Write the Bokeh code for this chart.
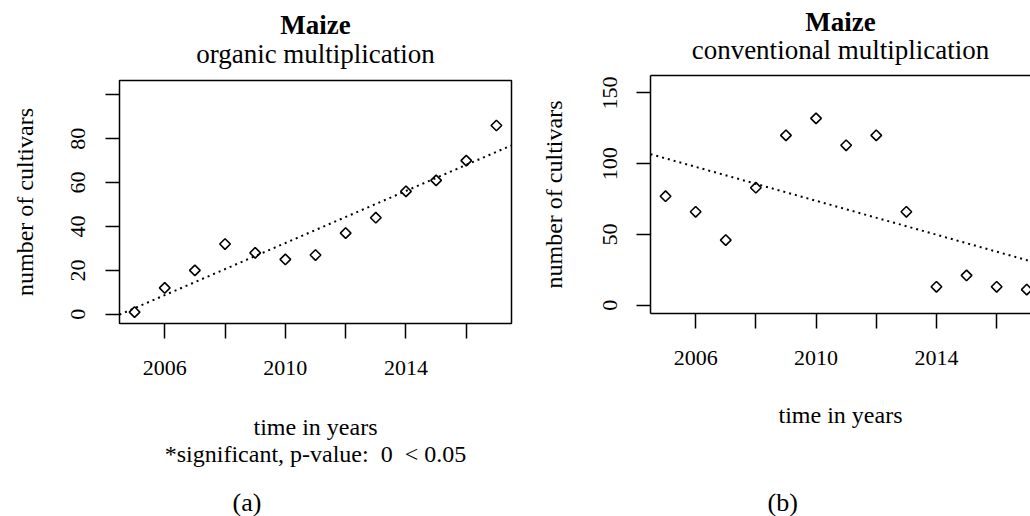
import numpy as np
from bokeh.plotting import figure
from bokeh.models import FixedTicker, Range1d, LinearAxis, Title
from bokeh.layouts import row, column
from bokeh.embed import file_html
from bokeh.resources import INLINE

# ---------------- data ----------------
years = [2005, 2006, 2007, 2008, 2009, 2010, 2011, 2012, 2013, 2014, 2015, 2016, 2017]
organic = [1, 12, 20, 32, 28, 25, 27, 37, 44, 56, 61, 70, 86]
conventional = [77, 66, 46, 83, 120, 132, 113, 120, 66, 13, 21, 13, 11]

x_ticks = [2006, 2008, 2010, 2012, 2014, 2016]
x_tick_labels = {2006: "2006", 2008: "", 2010: "2010", 2012: "", 2014: "2014", 2016: ""}
org_y_ticks = [0, 20, 40, 60, 80, 100]
org_y_labels = {0: "0", 20: "20", 40: "40", 60: "60", 80: "80", 100: ""}
conv_y_ticks = [0, 50, 100, 150]
conv_y_labels = {0: "0", 50: "50", 100: "100", 150: "150"}

crop = "Maize"
sub_a = "organic multiplication"
sub_b = "conventional multiplication"
xlab = "time in years"
ylab = "number of cultivars"
note_a = "*significant, p-value: \u00a00 \u00a0< 0.05"
cap_a = "(a)"
cap_b = "(b)"

FONT = "Liberation Serif"
X_START, X_END = 2004.5, 2017.5
PX_PER_YEAR = 30.1


def blank_axis(line=False, label="\u00a0", label_standoff=0, label_size="1px", bold=False):
    ax = LinearAxis(ticker=FixedTicker(ticks=[]), major_tick_out=0, major_tick_in=0,
                    minor_tick_out=0, minor_tick_in=0, major_label_standoff=0,
                    major_tick_line_color=None, minor_tick_line_color=None,
                    axis_line_color="black" if line else None, axis_line_width=1.5)
    ax.axis_label = label
    ax.axis_label_standoff = label_standoff
    ax.axis_label_text_font = FONT
    ax.axis_label_text_font_size = label_size
    ax.axis_label_text_font_style = "bold" if bold else "normal"
    ax.axis_label_text_color = "black"
    return ax


def style_axes(p, xa, ya, yticks, ylabels, axis_lines):
    p.xgrid.grid_line_color = None
    p.ygrid.grid_line_color = None
    for ax in (xa, ya):
        ax.major_tick_in = 0
        ax.minor_tick_in = 0
        ax.minor_tick_out = 0
        ax.major_tick_line_color = "black"
        ax.major_tick_line_width = 1.5
        ax.major_label_text_font = FONT
        ax.major_label_text_font_size = "22px"
        ax.major_label_text_color = "black"
        ax.axis_label_text_font = FONT
        ax.axis_label_text_font_size = "24px"
        ax.axis_label_text_font_style = "normal"
        ax.axis_label_text_color = "black"
        if axis_lines:
            ax.axis_line_color = "black"
            ax.axis_line_width = 1.5
        else:
            ax.axis_line_color = None
    xa.ticker = FixedTicker(ticks=x_ticks)
    xa.major_label_overrides = x_tick_labels
    xa.major_tick_out = 15
    xa.major_label_standoff = 22
    xa.axis_label = xlab
    ya.ticker = FixedTicker(ticks=yticks)
    ya.major_label_overrides = ylabels
    ya.major_tick_out = 14
    ya.major_label_orientation = "vertical"
    ya.axis_label = ylab


def caption(text, offset):
    return Title(text=text, align="left", offset=offset, standoff=0,
                 text_font=FONT, text_font_size="26px",
                 text_font_style="normal", text_color="black")


def scatter_fit(p, xs, ys):
    slope, intercept = np.polyfit(xs, ys, 1)
    fx = [X_START, X_END]
    fy = [intercept + slope * v for v in fx]
    p.line(fx, fy, line_color="black", line_width=2, line_dash="2 4")
    p.scatter(xs, ys, marker="square", angle=np.pi / 4, size=7.5,
              fill_color=None, line_color="black", line_width=1.6)


# ---------------- panel (a) ----------------
pa = figure(width=530, height=516, output_backend="svg", toolbar_location=None,
            x_range=Range1d(X_START, X_END), y_range=Range1d(-4.2, 106.5),
            min_border_left=119, min_border_right=19, min_border_top=80,
            min_border_bottom=193)
pa.outline_line_color = "black"
pa.outline_line_width = 1.5
xa_a, ya_a = pa.below[0], pa.left[0]
style_axes(pa, xa_a, ya_a, org_y_ticks, org_y_labels, axis_lines=False)
xa_a.axis_label_standoff = 36
ya_a.major_label_standoff = 20
ya_a.axis_label_standoff = 31
scatter_fit(pa, years, organic)
pa.add_layout(blank_axis(label=sub_a, label_standoff=12, label_size="27px"), "above")
pa.add_layout(blank_axis(label=crop, label_standoff=-4, label_size="27px", bold=True), "above")
pa.add_layout(blank_axis(label=note_a, label_standoff=-2, label_size="24px"), "below")
pa.add_layout(blank_axis(label_standoff=12), "below")
pa.add_layout(caption(cap_a, 113), "below")

# ---------------- panel (b) ----------------
frame_w_b = 1030 - 650
pb = figure(width=500, height=516, output_backend="svg", toolbar_location=None,
            x_range=Range1d(X_START, X_START + frame_w_b / PX_PER_YEAR),
            y_range=Range1d(-5.9, 162.3),
            min_border_left=120, min_border_right=0, min_border_top=75,
            min_border_bottom=203)
pb.outline_line_color = None
xa_b, ya_b = pb.below[0], pb.left[0]
style_axes(pb, xa_b, ya_b, conv_y_ticks, conv_y_labels, axis_lines=True)
xa_b.axis_label_standoff = 34
ya_b.major_label_standoff = 19
ya_b.axis_label_standoff = 34
scatter_fit(pb, years, conventional)
pb.add_layout(blank_axis(line=True, label=sub_b, label_standoff=11, label_size="27px"), "above")
pb.add_layout(blank_axis(label=crop, label_standoff=-5, label_size="27px", bold=True), "above")
pb.add_layout(blank_axis(label_standoff=51), "below")
pb.add_layout(caption(cap_b, 117), "below")

layout = row(column(pa), column(pb))
open("out.html", "w").write(file_html(layout, INLINE))
